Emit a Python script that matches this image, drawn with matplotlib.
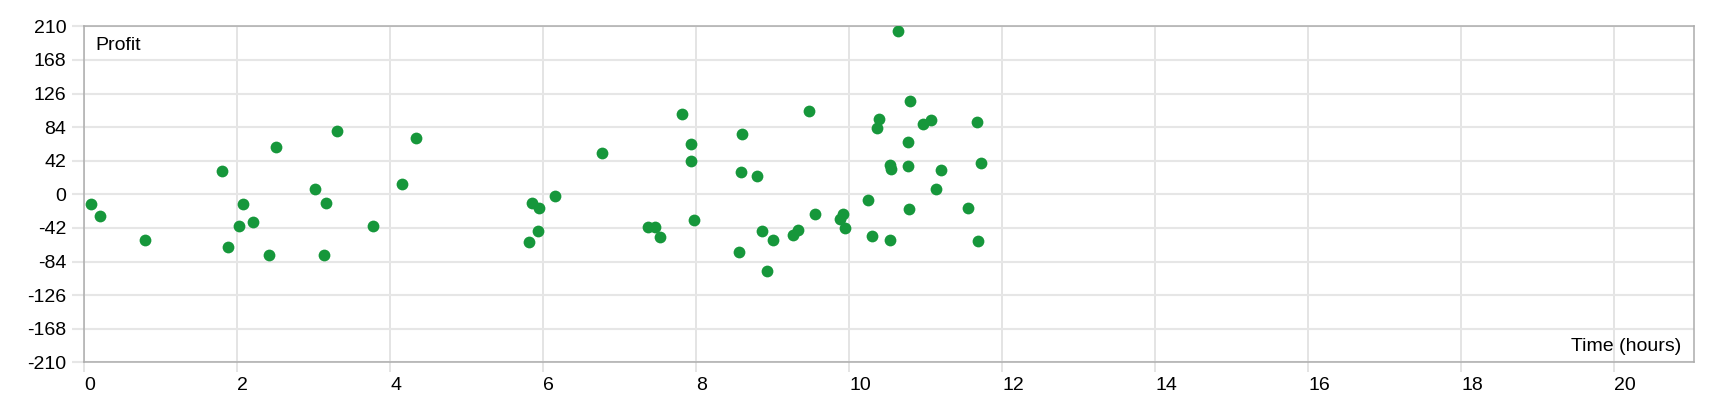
import matplotlib
matplotlib.use('Agg')
import matplotlib.pyplot as plt

plt.rcParams['font.family'] = ['Liberation Sans', 'DejaVu Sans']
plt.rcParams['axes.unicode_minus'] = False

# Time (hours) and profit for each trade
hours = [0.09, 0.20, 0.80, 1.80, 1.885, 2.02, 2.07, 2.21, 2.42, 2.50,
         3.01, 3.14, 3.16, 3.30, 3.775, 4.16, 4.34, 5.81, 5.85, 5.93,
         5.94, 6.155, 6.77, 7.375, 7.46, 7.53, 7.81, 7.93, 7.935, 7.97,
         8.555, 8.58, 8.60, 8.79, 8.86, 8.93, 9.00, 9.26, 9.33, 9.47,
         9.55, 9.88, 9.925, 9.94, 10.25, 10.30, 10.37, 10.39, 10.53, 10.55,
         10.53, 10.64, 10.77, 10.77, 10.78, 10.79, 10.97, 11.07, 11.13, 11.20,
         11.56, 11.67, 11.69, 11.73]
profit = [-11.7, -27.5, -57.5, 29.6, -65.8, -39.2, -12.5, -34.2, -75.8, 59.6,
          7.1, -75.8, -10.8, 79.2, -40.0, 12.9, 70.0, -60.0, -10.4, -45.8,
          -17.5, -2.1, 52.1, -40.8, -40.8, -53.3, 100.4, 62.5, 42.1, -32.5,
          -72.1, 27.5, 75.8, 22.9, -46.3, -95.8, -56.7, -50.4, -44.2, 104.2,
          -25.0, -31.3, -25.0, -41.7, -6.7, -52.5, 83.3, 94.2, 36.7, 32.1,
          -57.5, 204.6, 35.0, 65.0, -18.8, 117.1, 87.9, 92.5, 6.7, 30.4,
          -17.5, 90.4, -57.9, 39.6]

x_ticks = list(range(0, 21, 2))
y_ticks = list(range(-210, 211, 42))

fig = plt.figure(figsize=(17.2, 4.0), dpi=100)
ax = fig.add_axes([84.3 / 1720, 37.7 / 400, 1610 / 1720, 336 / 400])

ax.scatter(hours, profit, s=72, color='#16973b', zorder=3, linewidths=0)

ax.set_xlim(0, 21.05)
ax.set_ylim(-210, 210)
ax.set_xticks(x_ticks)
ax.set_yticks(y_ticks)
ax.set_xticklabels([str(t) for t in x_ticks], ha='left')

ax.xaxis.grid(True, color='#dcdcdc', linewidth=1.1, zorder=0)
ax.yaxis.grid(True, color='#e6e6e6', linewidth=1.5, zorder=0)
ax.axhline(0, color='#acacac', linewidth=1.1, zorder=1)
for side in ['top', 'bottom', 'left', 'right']:
    ax.spines[side].set_color('#acacac')
    ax.spines[side].set_linewidth(1.1)

ax.tick_params(axis='x', length=7.5, color='#dcdcdc', width=1.1, pad=3, labelsize=14)
ax.tick_params(axis='y', length=9, color='#e6e6e6', width=1.5, pad=4, labelsize=14)

ax.text(11.4 / 1610, 1 - 18.7 / 336, 'Profit', transform=ax.transAxes,
        ha='left', va='center', fontsize=14)
ax.text(1 - 13 / 1610, 15.6 / 336, 'Time (hours)', transform=ax.transAxes,
        ha='right', va='center', fontsize=14)

fig.savefig('out.png', dpi=100)
